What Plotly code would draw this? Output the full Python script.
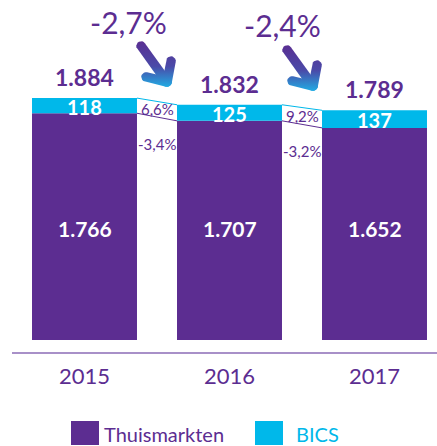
import numpy as np
import plotly.graph_objects as go

# ---- data ----
years = ["2015", "2016", "2017"]
thuismarkten = [1766, 1707, 1652]
bics = [118, 125, 137]
totals = [1884, 1832, 1789]
bics_growth = ["6,6%", "9,2%"]
thuis_growth = ["-3,4%", "-3,2%"]
total_growth = ["-2,7%", "-2,4%"]
series_names = ["Thuismarkten", "BICS"]

PURPLE = "#5C2D91"
CYAN = "#00B8EA"
AXIS = "#A890C8"
FONT = "Lato"
W, H = 437, 446
BW = 0.724

def fmt(v):
    return f"{v:,}".replace(",", ".")

x = list(range(len(years)))
fig = go.Figure()
fig.add_bar(x=x, y=thuismarkten, marker_color=PURPLE, width=BW, name=series_names[0],
            marker_line_width=0, hoverinfo="skip")
fig.add_bar(x=x, y=bics, base=thuismarkten, marker_color=CYAN, width=BW, name=series_names[1],
            marker_line_width=0, hoverinfo="skip")

# connecting lines between bars
for i in range(len(years) - 1):
    fig.add_scatter(x=[i + BW / 2, i + 1 - BW / 2], y=[totals[i], totals[i + 1]], mode="lines",
                    line=dict(color=CYAN, width=1), hoverinfo="skip", showlegend=False)
    fig.add_scatter(x=[i + BW / 2, i + 1 - BW / 2], y=[thuismarkten[i], thuismarkten[i + 1]], mode="lines",
                    line=dict(color=PURPLE, width=1), hoverinfo="skip", showlegend=False)

ann = []
for i in range(len(years)):
    ann.append(dict(x=i, y=totals[i], text=fmt(totals[i]), showarrow=False, yshift=21,
                    font=dict(family=FONT, size=23, color=PURPLE, weight="bold")))
    ann.append(dict(x=i, y=thuismarkten[i] + bics[i] / 2, text=str(bics[i]), showarrow=False, yshift=-1,
                    font=dict(family=FONT, size=20, color="white", weight="bold")))
    ann.append(dict(x=i, y=870, text=fmt(thuismarkten[i]), showarrow=False,
                    font=dict(family=FONT, size=21, color="white", weight="bold")))

for i in range(len(years) - 1):
    mt = (totals[i] + totals[i + 1]) / 2
    mp = (thuismarkten[i] + thuismarkten[i + 1]) / 2
    ann.append(dict(x=i + 0.5, y=(mt + mp) / 2, text=bics_growth[i], showarrow=False,
                    font=dict(family=FONT, size=15, color=PURPLE)))
    ann.append(dict(x=i + 0.5, y=mp, text=thuis_growth[i], showarrow=False, yshift=-27,
                    font=dict(family=FONT, size=15, color=PURPLE)))

# total growth labels (pixel placed)
for txt, (px, py) in zip(total_growth, [(128, 22), (282, 25)]):
    ann.append(dict(xref="paper", yref="paper", x=px / W, y=1 - py / H, text=txt, showarrow=False,
                    xanchor="center", yanchor="middle",
                    font=dict(family=FONT, size=30, color=PURPLE)))

# custom legend
shapes = []
for name, col, sx, tx in zip(series_names, [PURPLE, CYAN], [71, 255], [102, 294]):
    shapes.append(dict(type="rect", xref="paper", yref="paper", x0=sx / W, x1=(sx + 28) / W,
                       y0=1 - 445 / H, y1=1 - 421 / H, fillcolor=col, line_width=0))
    ann.append(dict(xref="paper", yref="paper", x=tx / W, y=1 - 434 / H, text=name, showarrow=False,
                    xanchor="left", yanchor="middle",
                    font=dict(family=FONT, size=20, color=col)))

# gradient arrows (decoration, pixel overlay axes)
def capsule(a, b, r, n=10):
    a = np.array(a, float); b = np.array(b, float)
    d = b - a
    ang = np.arctan2(d[1], d[0])
    t1 = np.linspace(ang - np.pi / 2, ang + np.pi / 2, n)
    t2 = np.linspace(ang + np.pi / 2, ang + 3 * np.pi / 2, n)
    pts = [b + r * np.array([np.cos(t), np.sin(t)]) for t in t1]
    pts += [a + r * np.array([np.cos(t), np.sin(t)]) for t in t2]
    pts.append(pts[0])
    pts = np.array(pts)
    return pts[:, 0], pts[:, 1]

for vx, vy in [(167, 82), (313, 86)]:
    v = (vx, vy)
    for p in [(vx - 26, vy - 36), (vx - 21, vy - 5), (vx + 4, vy - 21)]:
        xs, ys = capsule(p, v, 4.8)
        fig.add_scatter(x=xs, y=ys, xaxis="x2", yaxis="y2", mode="lines", fill="toself",
                        line=dict(width=0, color="rgba(0,0,0,0)"),
                        fillgradient=dict(type="vertical", start=vy - 42, stop=vy + 6,
                                          colorscale=[[0, "#5A2D91"], [0.55, "#4A4AA8"], [1, "#1FB0E6"]]),
                        hoverinfo="skip", showlegend=False)

fig.update_layout(
    width=W, height=H, margin=dict(l=0, r=0, t=0, b=0),
    paper_bgcolor="white", plot_bgcolor="rgba(0,0,0,0)",
    barmode="overlay", showlegend=False,
    annotations=ann, shapes=shapes,
    xaxis=dict(domain=[12 / W, 1], range=[-0.5, 2.431], tickvals=x, ticktext=years,
               anchor="free", position=1 - 352.7 / H, showline=True, linecolor=AXIS, linewidth=1.5,
               ticks="outside", ticklen=4, tickcolor="rgba(0,0,0,0)",
               tickfont=dict(family=FONT, size=22, color=PURPLE), showgrid=False, zeroline=False,
               fixedrange=True),
    yaxis=dict(domain=[0, 1], range=[-825.5, 2648], visible=False, showgrid=False, zeroline=False,
               fixedrange=True),
    xaxis2=dict(domain=[0, 1], range=[0, W], visible=False, anchor="y2", fixedrange=True),
    yaxis2=dict(domain=[0, 1], range=[H, 0], visible=False, anchor="x2", fixedrange=True),
)

fig.write_html("out.html", config=dict(displayModeBar=False),
               post_script="document.body.style.margin='0';document.body.style.overflow='hidden';")
